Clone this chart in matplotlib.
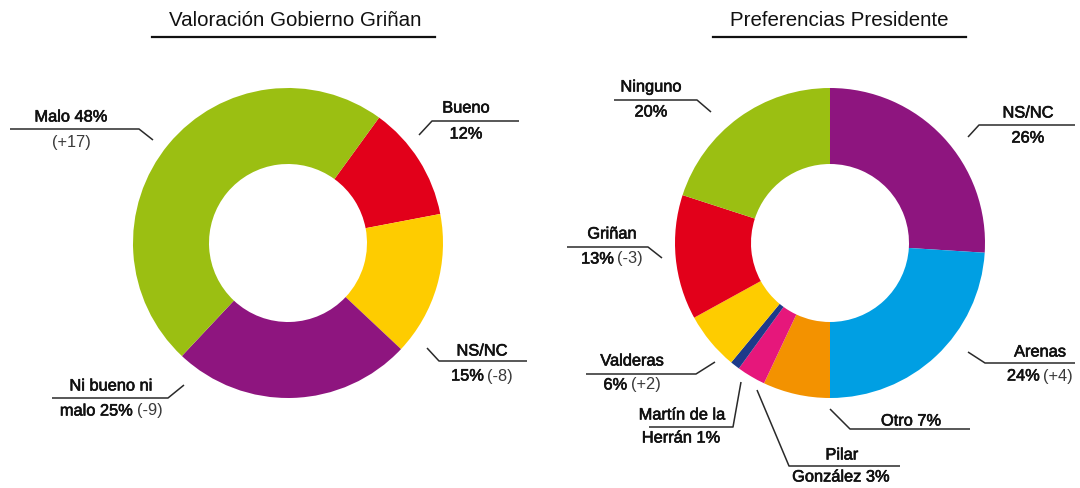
import matplotlib
matplotlib.use("Agg")
import matplotlib.pyplot as plt
import matplotlib.patheffects as pe

# ---------------- data ----------------
left_title = "Valoración Gobierno Griñan"
left_labels = ["Bueno", "NS/NC", "Ni bueno ni malo", "Malo"]
left_values = [12, 15, 25, 48]
left_changes = ["", "(-8)", "(-9)", "(+17)"]

right_title = "Preferencias Presidente"
right_labels = ["NS/NC", "Arenas", "Otro", "Pilar González", "Martín de la Herrán",
                "Valderas", "Griñan", "Ninguno"]
right_values = [26, 24, 7, 3, 1, 6, 13, 20]
right_changes = ["", "(+4)", "", "", "", "(+2)", "(-3)", ""]

# ---------------- style ----------------
left_colors = ["#E2001A", "#FECC00", "#8E157F", "#9BBF12"]
right_colors = ["#8E157F", "#009FE3", "#F39200", "#E6177B", "#1D3A8A",
                "#FECC00", "#E2001A", "#9BBF12"]

W, H = 1080, 488
fig = plt.figure(figsize=(W / 100, H / 100), dpi=100)
ax = fig.add_axes([0, 0, 1, 1])

FONT = "Liberation Sans"
MAIN_W = "main"
LIGHT_W = "light"


def Y(py):
    return H - py


R_OUT, R_IN = 155, 79
ax.pie(left_values, colors=left_colors, startangle=90 - 36, counterclock=False,
       radius=R_OUT, center=(288, Y(243)), frame=True,
       wedgeprops=dict(width=R_OUT - R_IN, linewidth=0))
ax.pie(right_values, colors=right_colors, startangle=90, counterclock=False,
       radius=R_OUT, center=(830, Y(243)), frame=True,
       wedgeprops=dict(width=R_OUT - R_IN, linewidth=0))
ax.set_xlim(0, W)
ax.set_ylim(0, H)
ax.set_aspect("equal")
ax.axis("off")

renderer = fig.canvas.get_renderer()


def mixed(x, py, parts, size=11.8):
    """parts: list of (text, kind, color); centred at x."""
    arts = []
    for txt, kind, col in parts:
        t = ax.text(0, Y(py), txt, fontsize=size, family=FONT, weight="normal",
                    color=col, ha="left", va="center")
        if kind == MAIN_W:
            t.set_path_effects([pe.Stroke(linewidth=0.45, foreground=col), pe.Normal()])
        arts.append(t)
    widths = [t.get_window_extent(renderer=renderer).width for t in arts]
    gap = 3.5
    total = sum(widths) + gap * (len(arts) - 1)
    cur = x - total / 2
    for t, w in zip(arts, widths):
        t.set_x(cur)
        cur += w + gap


def leader(points):
    xs = [p[0] for p in points]
    ys = [Y(p[1]) for p in points]
    ax.plot(xs, ys, color="#2a2a2a", lw=1.1, solid_capstyle="butt")


K = "#111111"
G = "#3a3a3a"

# titles
for title, cx, x0, x1 in [(left_title, 295, 152, 435), (right_title, 839, 713, 966)]:
    ax.text(cx, Y(20), title, fontsize=14.8, family=FONT, color=K, ha="center", va="center")
    ax.plot([x0, x1], [Y(37), Y(37)], color="#111111", lw=1.6)

# ---- left labels ----
mixed(71, 117, [("Malo 48%", MAIN_W, K)])
mixed(71, 142, [("(+17)", LIGHT_W, G)])
leader([(10, 129), (139, 129), (153, 140)])

mixed(466, 108, [("Bueno", MAIN_W, K)])
mixed(466, 134, [("12%", MAIN_W, K)])
leader([(419, 135), (432, 121), (519, 121)])

mixed(482, 351, [("NS/NC", MAIN_W, K)])
mixed(482, 376, [("15%", MAIN_W, K), ("(-8)", LIGHT_W, G)])
leader([(427, 348), (439, 361), (527, 361)])

mixed(111, 386, [("Ni bueno ni", MAIN_W, K)])
mixed(111, 411, [("malo 25%", MAIN_W, K), ("(-9)", LIGHT_W, G)])
leader([(52, 398), (168, 398), (184, 385)])

# ---- right labels ----
mixed(651, 87, [("Ninguno", MAIN_W, K)])
mixed(651, 112, [("20%", MAIN_W, K)])
leader([(614, 100), (697, 100), (711, 112)])

mixed(1028, 113, [("NS/NC", MAIN_W, K)])
mixed(1028, 138, [("26%", MAIN_W, K)])
leader([(968, 137), (979, 125), (1075, 125)])

mixed(612, 234, [("Griñan", MAIN_W, K)])
mixed(612, 259, [("13%", MAIN_W, K), ("(-3)", LIGHT_W, G)])
leader([(567, 247), (648, 247), (662, 258)])

mixed(632, 361, [("Valderas", MAIN_W, K)])
mixed(632, 385, [("6%", MAIN_W, K), ("(+2)", LIGHT_W, G)])
leader([(586, 374), (696, 374), (715, 362)])

mixed(682, 415, [("Martín de la", MAIN_W, K)])
mixed(681, 438, [("Herrán 1%", MAIN_W, K)])
leader([(649, 427), (733, 427), (741, 382)])

mixed(842, 455, [("Pilar", MAIN_W, K)])
mixed(841, 477, [("González 3%", MAIN_W, K)])
leader([(757, 390), (789, 466), (900, 466)])

mixed(911, 421, [("Otro 7%", MAIN_W, K)])
leader([(830, 409), (850, 429), (970, 429)])

mixed(1040, 352, [("Arenas", MAIN_W, K)])
mixed(1040, 376, [("24%", MAIN_W, K), ("(+4)", LIGHT_W, G)])
leader([(968, 352), (985, 363), (1075, 363)])

fig.savefig("out.png", dpi=100)
